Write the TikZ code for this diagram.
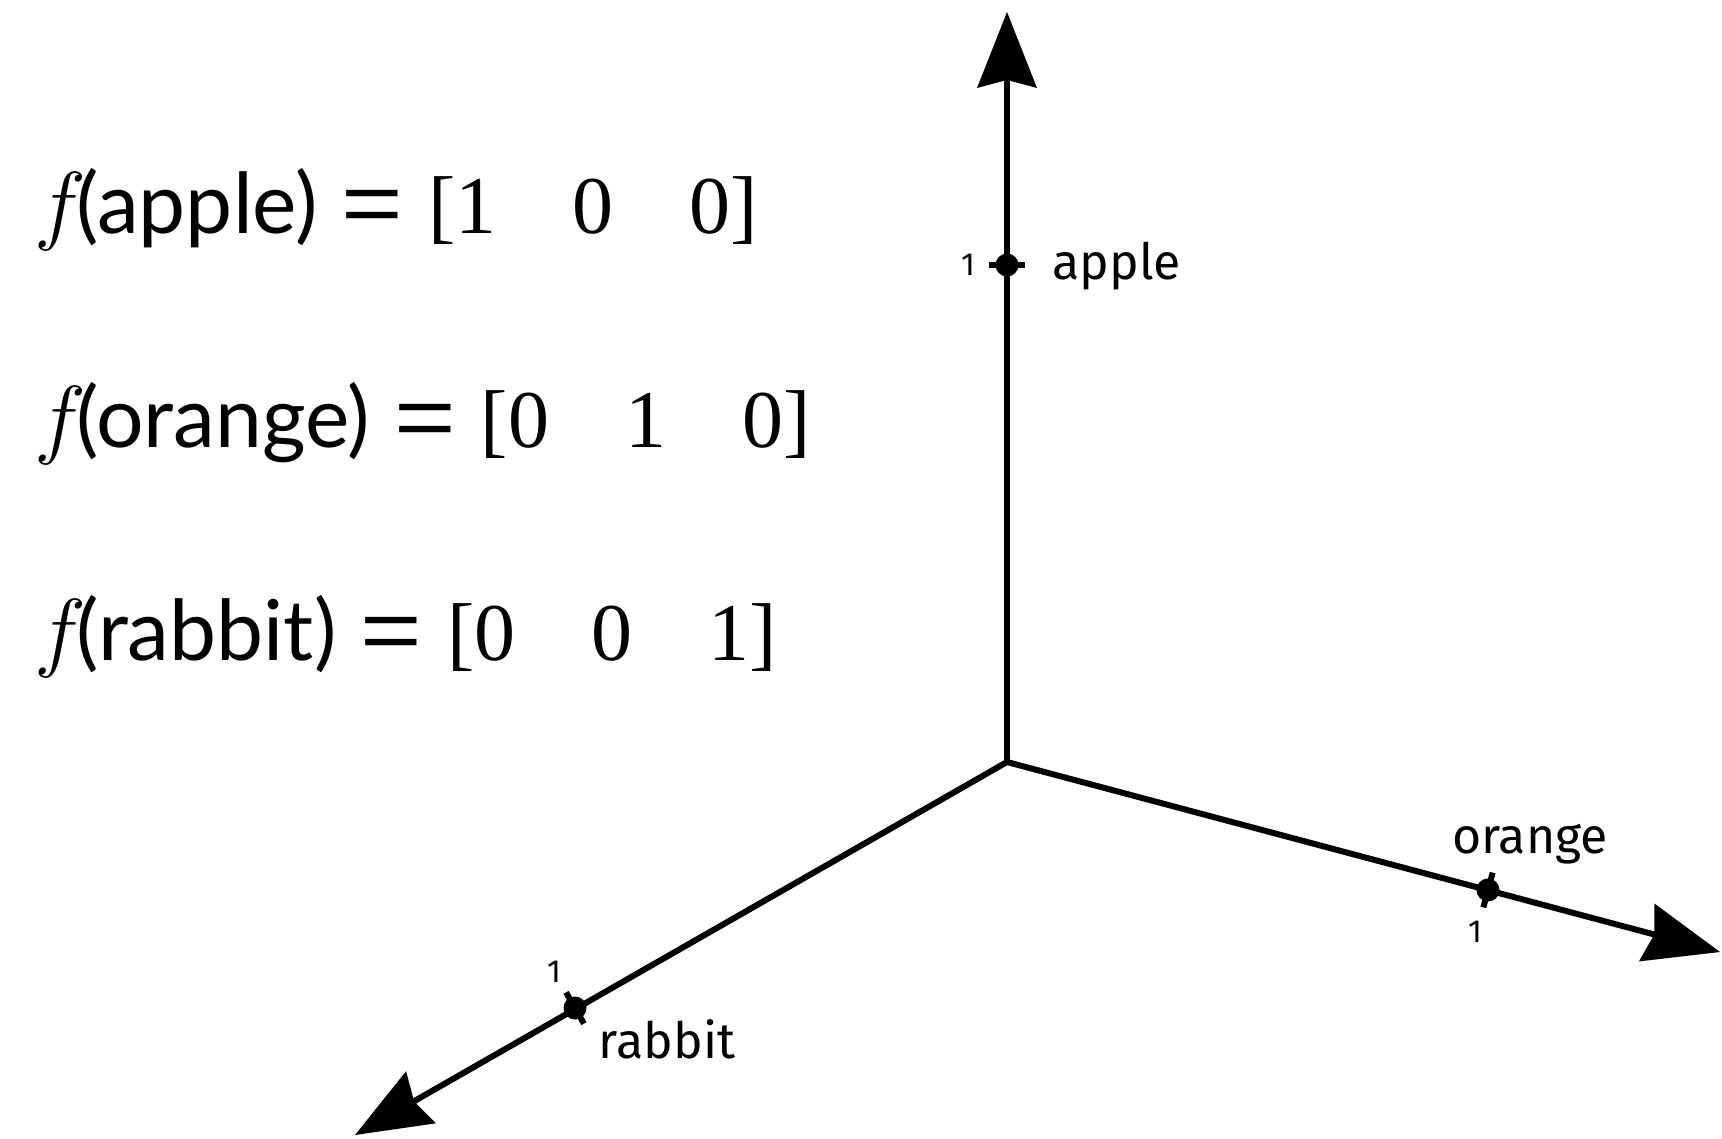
\RequirePackage{fix-cm}
\documentclass[tikz,border=0pt]{standalone}
\usepackage{graphicx}
\usepackage{fontspec}
\setmainfont{Lato}
\newfontfamily\latof{Lato}
\newfontfamily\serf{Liberation Serif}
\newfontfamily\libsans{Liberation Sans}
\newfontfamily\labf{Fira Sans}
\usetikzlibrary{arrows.meta,calc}
\newcommand{\eqf}{{\fontsize{44}{50}\selectfont$f$}\hspace{-5pt}}
\newcommand{\eqw}[1]{{\latof\fontsize{42}{50}\selectfont(#1)}\hspace{12pt}{\libsans\fontsize{44}{50}\selectfont\scalebox{1.2}[1]{=}}\hspace{12.5pt}}
\newcommand{\eqv}[3]{{\serf\fontsize{41}{50}\selectfont[#1\hspace{38pt}#2\hspace{38pt}#3]}}
\begin{document}
\begin{tikzpicture}[x=0.5pt,y=-0.5pt,
  axis/.style={line width=3pt, line cap=round, -{Stealth[length=38pt,width=30pt,inset=4pt,line width=0pt]}},
  tickmark/.style={line width=3pt},
  dotnode/.style={circle,fill,inner sep=0pt,minimum size=11.5pt},
  lab/.style={font=\labf\fontsize{25}{30}\selectfont, inner sep=0pt, anchor=base},
  num/.style={font=\labf\fontsize{16}{18}\selectfont, inner sep=0pt, anchor=base},
  eq/.style={inner sep=0pt, anchor=base west}]
\useasboundingbox (0,0) rectangle (1722,1139);
\fill[white] (0,0) rectangle (1722,1139);

% axes
\coordinate (O) at (1007,762);
\coordinate (A) at (1007,12);
\coordinate (B) at (1720,952);
\coordinate (C) at (355,1135);
\draw[axis] (O) -- (A);
\draw[axis] (O) -- (B);
\draw[axis] (O) -- (C);

% unit marks
\node[dotnode] (da) at (1007,265) {};
\node[dotnode] (db) at (1488,890) {};
\node[dotnode] (dc) at (575,1008) {};
\draw[tickmark] ($(da)!9pt!90:(O)$) -- ($(da)!9pt!-90:(O)$);
\draw[tickmark] ($(db)!9pt!90:(O)$) -- ($(db)!9pt!-90:(O)$);
\draw[tickmark] ($(dc)!9pt!90:(O)$) -- ($(dc)!9pt!-90:(O)$);

% labels
\node[lab, anchor=base west] (la) at (1052,279) {apple};
\node[lab] (lb) at (1530,853) {orange};
\node[lab] (lc) at (667,1058) {rabbit};
\node[num] (na) at (968,275) {1};
\node[num] (nb) at (1475,942) {1};
\node[num] (nc) at (554,982) {1};

% equations
\node[eq] (e1) at (34,234) {\eqf\eqw{apple}\eqv{1}{0}{0}};
\node[eq] (e2) at (34,447) {\eqf\eqw{orange}\eqv{0}{1}{0}};
\node[eq] (e3) at (34,660) {\eqf\eqw{rabbit}\eqv{0}{0}{1}};
\end{tikzpicture}
\end{document}
